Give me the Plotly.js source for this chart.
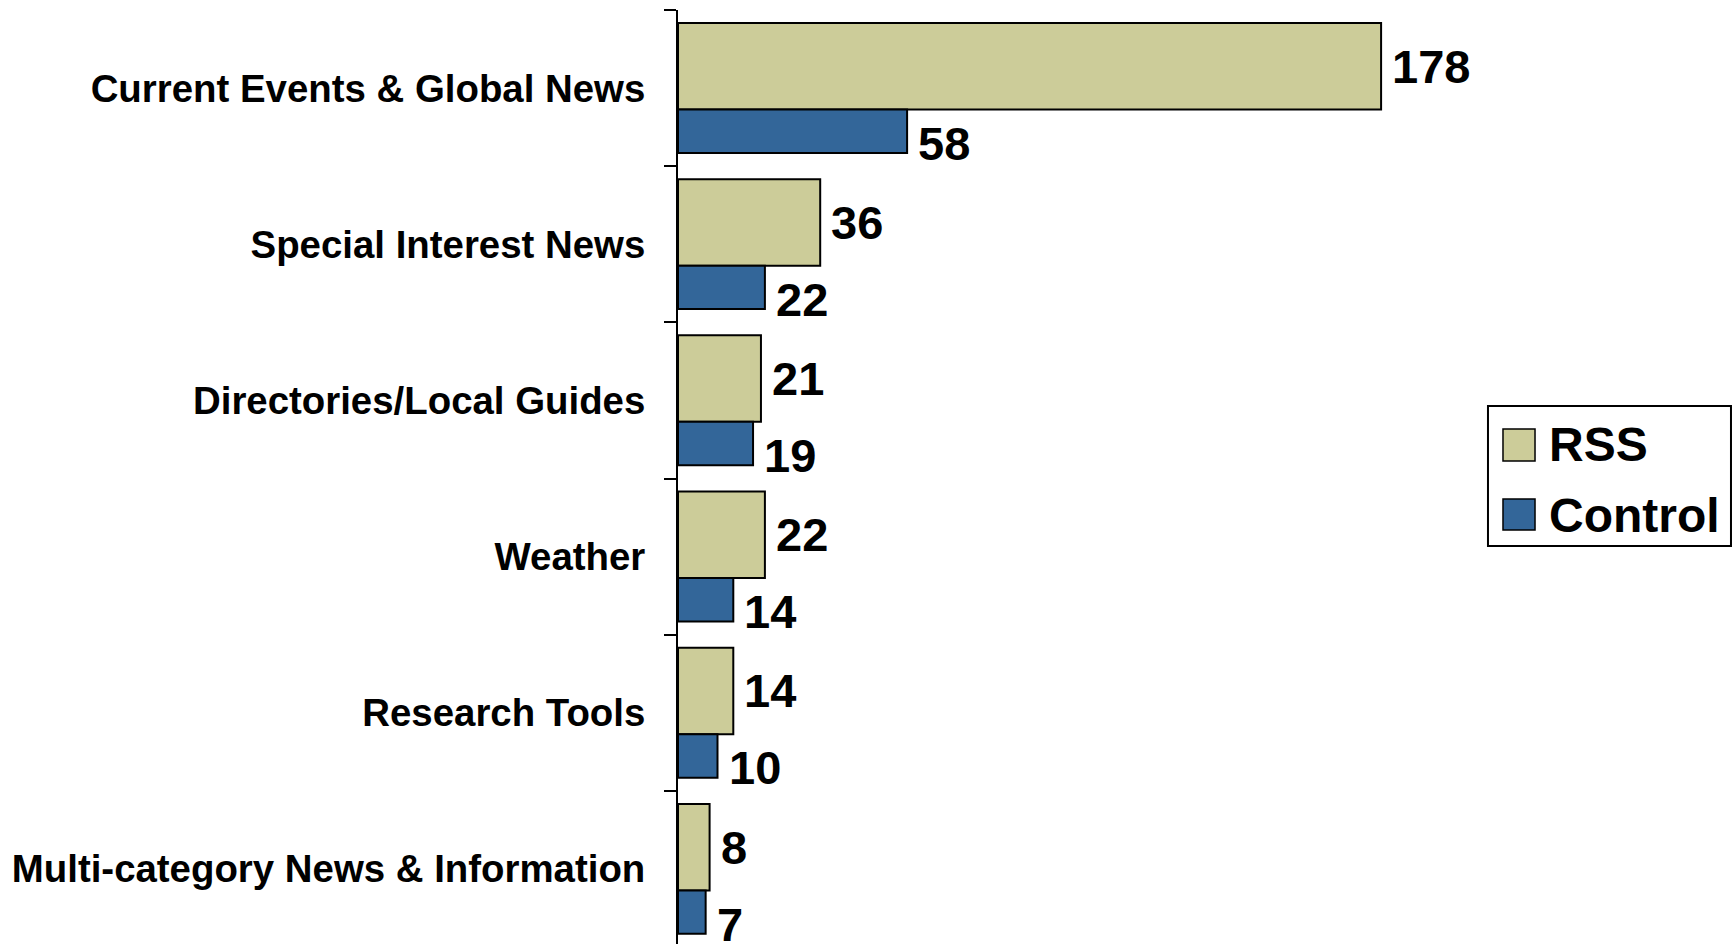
<!DOCTYPE html>
<html>
<head>
<meta charset="utf-8">
<script src="https://cdn.plot.ly/plotly-3.0.1.min.js"></script>
<style>
  html, body { margin: 0; padding: 0; background: #ffffff; }
  #chart { width: 1735px; height: 944px; }
</style>
</head>
<body>
<div id="chart"></div>
<script>
const categories = [
  "Current Events & Global News",
  "Special Interest News",
  "Directories/Local Guides",
  "Weather",
  "Research Tools",
  "Multi-category News & Information"
];
const rssValues = [178, 36, 21, 22, 14, 8];
const controlValues = [58, 22, 19, 14, 10, 7];
const seriesNames = ["RSS", "Control"];

const rssColor = "#CCCC99";
const controlColor = "#336699";
const FONT = "'Liberation Sans', Arial, sans-serif";

const traces = [
  {
    type: "bar", orientation: "h", name: seriesNames[0],
    y: categories, x: rssValues,
    width: 0.554, offset: -0.417,
    marker: { color: rssColor, line: { color: "#000000", width: 2 } },
    hoverinfo: "x+y"
  },
  {
    type: "bar", orientation: "h", name: seriesNames[1],
    y: categories, x: controlValues,
    width: 0.278, offset: 0.137,
    marker: { color: controlColor, line: { color: "#000000", width: 2 } },
    hoverinfo: "x+y"
  }
];

const labelFont = { family: FONT, size: 47, color: "#000000", weight: "bold" };
const annotations = [];
categories.forEach((c, i) => {
  annotations.push({
    x: rssValues[i], y: c, xref: "x", yref: "y",
    text: String(rssValues[i]), showarrow: false,
    xanchor: "left", yanchor: "middle", xshift: 9, yshift: 22,
    font: labelFont
  });
  annotations.push({
    x: controlValues[i], y: c, xref: "x", yref: "y",
    text: String(controlValues[i]), showarrow: false,
    xanchor: "left", yanchor: "middle", xshift: 9, yshift: -55,
    font: labelFont
  });
});

// Custom legend (large swatches as in the reference)
const legendFont = { family: FONT, size: 48, color: "#000000", weight: "bold" };
const shapes = [
  { type: "rect", xref: "paper", yref: "paper", x0: 0.7663, x1: 0.9962, y0: 0.4261, y1: 0.5760,
    line: { color: "#000000", width: 2 }, fillcolor: "#ffffff", layer: "above" },
  { type: "rect", xref: "paper", yref: "paper", x0: 0.7805, x1: 0.8108, y0: 0.5171, y1: 0.5514,
    line: { color: "#000000", width: 1.5 }, fillcolor: rssColor, layer: "above" },
  { type: "rect", xref: "paper", yref: "paper", x0: 0.7805, x1: 0.8108, y0: 0.4433, y1: 0.4764,
    line: { color: "#000000", width: 1.5 }, fillcolor: controlColor, layer: "above" }
];
annotations.push({
  xref: "paper", yref: "paper", x: 0.8220, y: 0.5343, xanchor: "left", yanchor: "middle",
  text: seriesNames[0], showarrow: false, font: legendFont
});
annotations.push({
  xref: "paper", yref: "paper", x: 0.8220, y: 0.4593, xanchor: "left", yanchor: "middle",
  text: seriesNames[1], showarrow: false, font: legendFont
});

const layout = {
  width: 1735, height: 944,
  margin: { l: 678, r: 0, t: 10, b: 0, pad: 0 },
  paper_bgcolor: "#ffffff", plot_bgcolor: "#ffffff",
  barmode: "overlay",
  showlegend: false,
  xaxis: {
    range: [0, 267.6], visible: false, fixedrange: true
  },
  yaxis: {
    type: "category",
    categoryorder: "array", categoryarray: categories,
    range: [5.48, -0.5],
    showline: true, linecolor: "#000000", linewidth: 2,
    ticks: "outside", ticklen: 12, tickwidth: 2, tickcolor: "#000000",
    tickson: "boundaries",
    showgrid: false, zeroline: false,
    ticklabelstandoff: 23,
    tickfont: { family: FONT, size: 38.4, color: "#000000", weight: "bold" },
    fixedrange: true
  },
  shapes: shapes,
  annotations: annotations
};

Plotly.newPlot("chart", traces, layout, { displayModeBar: false, staticPlot: true });
</script>
</body>
</html>
